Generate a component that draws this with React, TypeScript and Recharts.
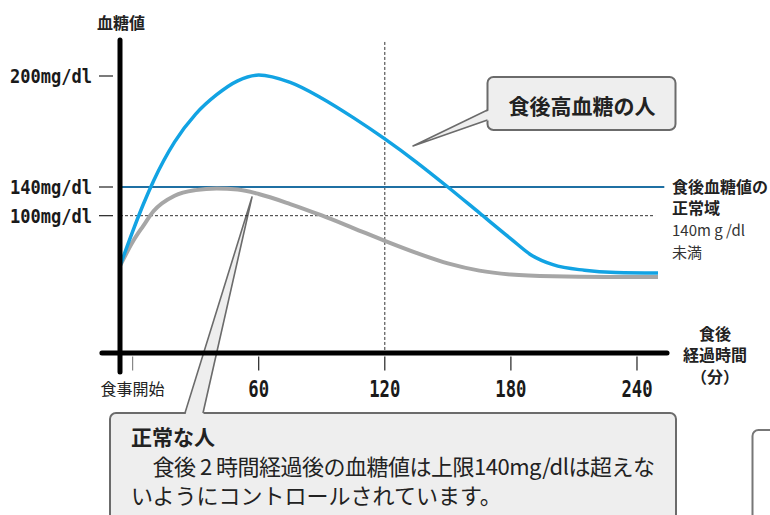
import { Customized, Line, LineChart, ReferenceLine, XAxis, YAxis } from 'recharts'

// 食後高血糖の人 (minutes after the meal / chart value)
const highMinutes = [-6, 0, 5, 10, 20, 30, 40, 50, 60, 75, 90, 105, 120, 135, 150, 165, 180, 190, 200, 215, 230, 250]
const highGlucose = [97.3, 115.9, 130.4, 143.4, 164.4, 179.4, 189.9, 197.4, 200.5, 196.5, 188, 177.5, 166, 153.5, 140, 126, 112, 103, 98, 95, 93.8, 93.5]

// 正常な人
const normalMinutes = [-6, 0, 5, 10, 20, 30, 40, 50, 60, 75, 90, 105, 120, 135, 150, 165, 180, 200, 225, 250]
const normalGlucose = [97.3, 110.3, 118.9, 127, 135.3, 138.3, 139.2, 138.6, 136.2, 130.8, 124.6, 117.8, 110.9, 104.4, 98.7, 94.8, 92.7, 91.7, 91.4, 91.4]

const xTicks = [0, 60, 120, 180, 240]
const xTickLabels = ['食事開始', '60', '120', '180', '240']
const yTicks = [200, 140, 124.5]
const yTickLabels = ['200mg/dl', '140mg/dl', '100mg/dl']
const limitValue = 140
const lowerValue = 124.5
const checkMinute = 120

const highData = highMinutes.map((t, i) => ({ t, v: highGlucose[i] }))
const normalData = normalMinutes.map((t, i) => ({ t, v: normalGlucose[i] }))

const jp = '"Noto Sans CJK JP", "Noto Sans", sans-serif'
const mono = '"DejaVu Sans Mono", monospace'

function YTick({ x, y, payload }: any) {
  const label = yTickLabels[yTicks.indexOf(payload.value)]
  return (
    <g>
      <line x1={x - 21} x2={x - 7} y1={y} y2={y} stroke="#222" strokeWidth={1.2} />
      <text
        x={x - 28}
        y={y + 7}
        textAnchor="end"
        fontFamily={mono}
        fontWeight="bold"
        fontSize={20}
        fill="#1a1a1a"
        textLength={82}
        lengthAdjust="spacingAndGlyphs"
      >
        {label}
      </text>
    </g>
  )
}

function XTick({ x, y, payload }: any) {
  const i = xTicks.indexOf(payload.value)
  const isStart = i === 0
  return (
    <g>
      <line x1={x} x2={x} y1={y + 3} y2={y + 17} stroke={isStart ? '#888' : '#222'} strokeWidth={1.2} />
      {isStart ? (
        <text x={x} y={y + 41.5} textAnchor="middle" fontFamily={jp} fontSize={16} fill="#222">
          {xTickLabels[i]}
        </text>
      ) : (
        <text
          x={x}
          y={y + 43.5}
          textAnchor="middle"
          fontFamily={mono}
          fontWeight="bold"
          fontSize={23}
          fill="#1a1a1a"
          textLength={xTickLabels[i].length * 10.4}
          lengthAdjust="spacingAndGlyphs"
        >
          {xTickLabels[i]}
        </text>
      )}
    </g>
  )
}

function Annotations() {
  return (
    <g fontFamily={jp}>
      {/* axis titles */}
      <text x={121} y={29} textAnchor="middle" fontSize={16} fontWeight="bold" fill="#222">血糖値</text>
      <g fontSize={16} fontWeight="bold" fill="#222" textAnchor="middle">
        <text x={715} y={340}>食後</text>
        <text x={715} y={361}>経過時間</text>
        <text x={715} y={383}>（分）</text>
      </g>

      {/* normal range label */}
      <g fill="#222">
        <text x={672} y={193} fontSize={16} fontWeight="bold">食後血糖値の</text>
        <text x={672} y={214} fontSize={16} fontWeight="bold">正常域</text>
        <text x={672} y={236} fontSize={15} fill="#333">140m g /dl</text>
        <text x={672} y={258} fontSize={15} fill="#333">未満</text>
      </g>

      {/* callout: high */}
      <rect x={487.5} y={77} width={188} height={53} rx={6} fill="#eeeeee" stroke="#6b6b6b" strokeWidth={2} />
      <path d="M490,110 L413,146 L490,120 Z" fill="#eeeeee" />
      <path d="M487.5,110 L413,146 L487.5,120" fill="none" stroke="#6b6b6b" strokeWidth={1.6} strokeLinejoin="round" />
      <text x={582} y={114} textAnchor="middle" fontSize={21} fontWeight="bold" fill="#222">食後高血糖の人</text>

      {/* right partial box */}
      <rect x={752.5} y={430} width={100} height={200} rx={6} fill="#ffffff" stroke="#777" strokeWidth={2} />

      {/* callout: normal */}
      <rect x={110} y={413} width={566} height={140} rx={6} fill="#eeeeee" stroke="#6b6b6b" strokeWidth={2} />
      <path d="M185,416 L252,197 L203,416 Z" fill="#eeeeee" />
      <path d="M185,413 L252,197 L203,413" fill="none" stroke="#6b6b6b" strokeWidth={1.6} strokeLinejoin="round" />
      <g fill="#222">
        <text x={131} y={445} fontSize={21} fontWeight="bold">正常な人</text>
        <text x={131} y={475} fontSize={22} letterSpacing={-0.5}>　食後 2 時間経過後の血糖値は上限140mg/dlは超えな</text>
        <text x={131} y={504} fontSize={22}>いようにコントロールされています。</text>
      </g>
    </g>
  )
}

export default function App() {
  return (
    <div style={{ position: 'fixed', left: 0, top: 0, width: 770, height: 515, background: '#fff' }}>
      <LineChart width={770} height={515} margin={{ top: 39, right: 112, bottom: 131.5, left: 90 }}>
        <XAxis
          type="number"
          dataKey="t"
          domain={[-6, 250]}
          ticks={xTicks}
          interval={0}
          allowDataOverflow
          axisLine={false}
          tickLine={false}
          tickSize={0}
          tickMargin={0}
          height={30}
          tick={(p: any) => <XTick {...p} />}
        />
        <YAxis
          type="number"
          dataKey="v"
          domain={[50, 220]}
          ticks={yTicks}
          interval={0}
          allowDataOverflow
          axisLine={false}
          tickLine={false}
          tickSize={0}
          tickMargin={0}
          width={30}
          tick={(p: any) => <YTick {...p} />}
        />
        <ReferenceLine
          segment={[{ x: checkMinute, y: 218.4 }, { x: checkMinute, y: 50.3 }]}
          stroke="#333"
          strokeDasharray="3 2"
          strokeWidth={1}
          ifOverflow="visible"
        />
        <ReferenceLine
          segment={[{ x: -6, y: lowerValue }, { x: 248.6, y: lowerValue }]}
          stroke="#333"
          strokeDasharray="3 2"
          strokeWidth={1}
          ifOverflow="visible"
        />
        <ReferenceLine
          segment={[{ x: -6, y: limitValue }, { x: 253, y: limitValue }]}
          stroke="#1f70a3"
          strokeWidth={2}
          ifOverflow="visible"
        />
        <Line
          data={normalData}
          dataKey="v"
          type="monotone"
          stroke="#a6a6a6"
          strokeWidth={4}
          dot={false}
          activeDot={false}
          isAnimationActive={false}
        />
        <Line
          data={highData}
          dataKey="v"
          type="monotone"
          stroke="#12a3e3"
          strokeWidth={3.5}
          dot={false}
          activeDot={false}
          isAnimationActive={false}
        />
        <ReferenceLine
          segment={[{ x: -6, y: 219.5 }, { x: -6, y: 40 }]}
          stroke="#000"
          strokeWidth={5}
          strokeLinecap="round"
          ifOverflow="visible"
        />
        <ReferenceLine
          segment={[{ x: -14.6, y: 50.3 }, { x: 254.3, y: 50.3 }]}
          stroke="#000"
          strokeWidth={5}
          strokeLinecap="round"
          ifOverflow="visible"
        />
        <Customized component={Annotations} />
      </LineChart>
    </div>
  )
}
